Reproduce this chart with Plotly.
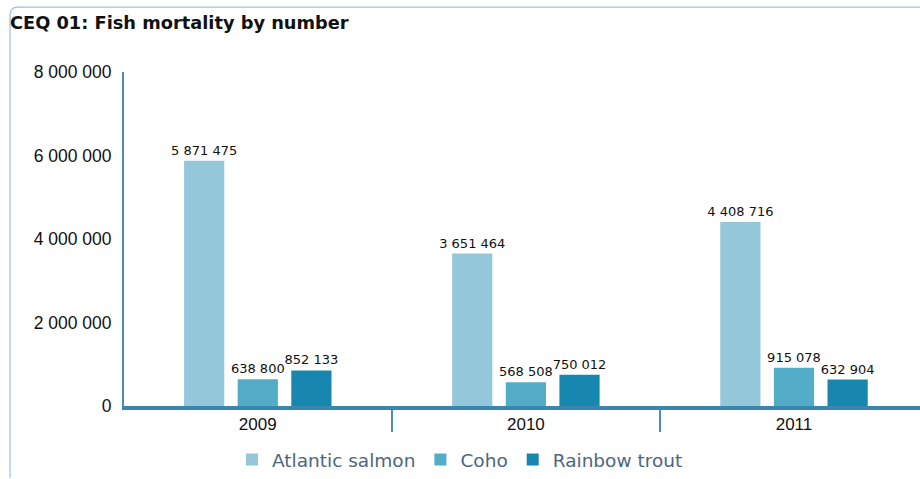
import plotly.graph_objects as go

years = ["2009", "2010", "2011"]
atlantic_salmon = [5871475, 3651464, 4408716]
coho = [638800, 568508, 915078]
rainbow_trout = [852133, 750012, 632904]
series_names = ["Atlantic salmon", "Coho", "Rainbow trout"]
colors = ["#95c7db", "#53acc8", "#1887b0"]
y_ticks = [0, 2000000, 4000000, 6000000, 8000000]

W, H = 920, 479
L, R, T, B = 124, 0, 72, 72
pw, ph = W - L - R, H - T - B

def px_x(p):
    return (p - L) / pw

def px_y(p):
    return (H - B - p) / ph

fig = go.Figure()
for name, vals, col in zip(series_names, [atlantic_salmon, coho, rainbow_trout], colors):
    fig.add_trace(go.Bar(
        x=years, y=vals, name=name, marker=dict(color=col, line=dict(width=0)),
        text=vals, texttemplate="%{y:,}", textposition="outside",
        textfont=dict(family="DejaVu Sans", size=13, color="#111111"),
        constraintext="none", cliponaxis=False,
    ))

border_path = (f"M {px_x(10)},{px_y(479)} L {px_x(10)},{px_y(15)} "
               f"Q {px_x(10)},{px_y(7)} {px_x(18)},{px_y(7)} L {px_x(920)},{px_y(7)}")

fig.update_layout(
    width=W, height=H,
    margin=dict(l=L, r=R, t=T, b=B, pad=0),
    paper_bgcolor="white", plot_bgcolor="white",
    separators=". ",
    barmode="group", bargap=0.40, bargroupgap=0.25,
    title=dict(text="<b>CEQ 01: Fish mortality by number</b>",
               font=dict(family="DejaVu Sans", size=17.8, color="#111111"),
               x=10 / W, xanchor="left", xref="container",
               y=1 - 23 / H, yanchor="middle", yref="container"),
    xaxis=dict(type="category", range=[-0.499, 2.47], showgrid=False,
               showline=True, linecolor="#3a86ac", linewidth=4,
               ticks="outside", tickson="boundaries", ticklen=22, tickwidth=1.5,
               tickcolor="#4d8fb0",
               tickfont=dict(family="Liberation Sans", size=17, color="#111111"),
               zeroline=False),
    yaxis=dict(range=[0, 8000000], tickvals=y_ticks, tickformat=",",
               showgrid=False, zeroline=False, showline=True,
               linecolor="#4d8fb0", linewidth=2,
               ticks="outside", ticklen=7, tickcolor="rgba(0,0,0,0)",
               tickfont=dict(family="Liberation Sans", size=17.5, color="#111111")),
    legend=dict(orientation="h", x=px_x(460), xanchor="center",
                y=px_y(461), yanchor="middle",
                font=dict(family="DejaVu Sans", size=18.5, color="#4d6680"),
                itemwidth=30, traceorder="normal"),
    showlegend=True,
    shapes=[dict(type="path", path=border_path, xref="paper", yref="paper",
                 line=dict(color="#9dbfdf", width=1.2), layer="above")],
)

fig.write_html("out.html", config={"displayModeBar": False},
               post_script="document.body.style.margin='0px';document.body.style.padding='0px';")
